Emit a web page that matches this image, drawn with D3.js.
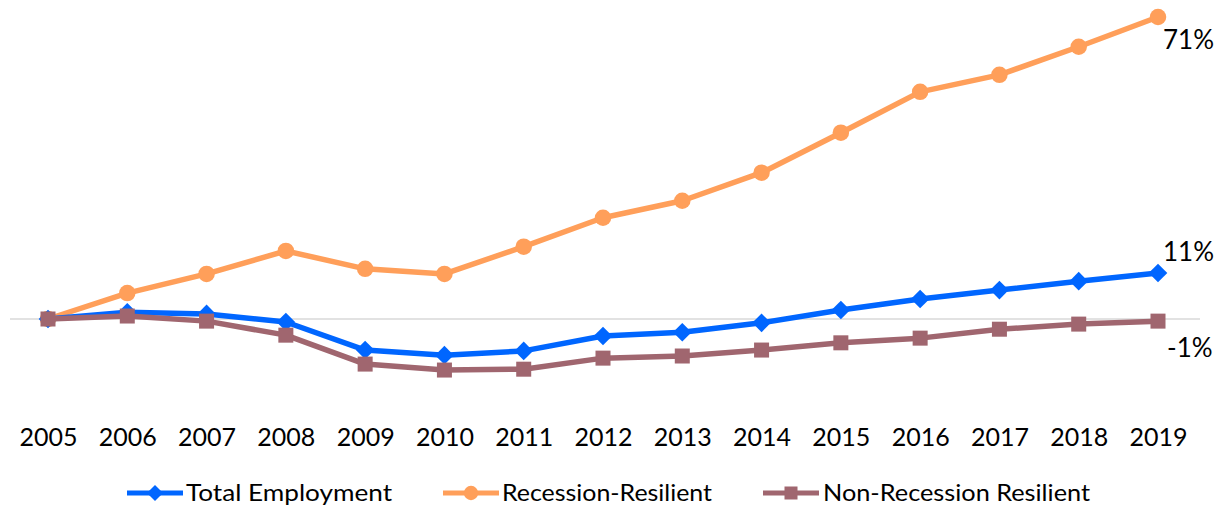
<!DOCTYPE html>
<html>
<head>
<meta charset="utf-8">
<script src="https://cdn.jsdelivr.net/npm/d3@7"></script>
<style>
  body { margin: 0; background: #fff; }
  text { font-family: "Lato", "DejaVu Sans", sans-serif; fill: #000; }
</style>
</head>
<body>
<div id="chart"></div>
<script>
// years along the x axis
const years = ["2005","2006","2007","2008","2009","2010","2011","2012","2013","2014","2015","2016","2017","2018","2019"];

// % change in employment since 2005
const totalEmployment = [0, 1.6, 1.2, -0.7, -7.3, -8.5, -7.5, -4.0, -3.1, -0.9, 2.1, 4.7, 6.8, 8.9, 10.8];
const recessionResilient = [0, 6.1, 10.6, 16.0, 11.8, 10.6, 17.0, 23.8, 27.8, 34.4, 43.8, 53.4, 57.4, 64.0, 71.0];
const nonResilient = [0, 0.7, -0.5, -3.8, -10.6, -12.0, -11.8, -9.2, -8.7, -7.3, -5.6, -4.5, -2.4, -1.2, -0.5];

const endLabels = ["11%", "71%", "-1%"];
const seriesNames = ["Total Employment", "Recession-Resilient", "Non-Recession Resilient"];

const w = 1229, h = 508;
const svg = d3.select("#chart").append("svg").attr("width", w).attr("height", h);

const x = d3.scalePoint().domain(years).range([48, 1158]);
const y = d3.scaleLinear().domain([0, 71]).range([319, 17]);

// zero line
svg.append("line")
    .attr("x1", 10).attr("x2", 1200)
    .attr("y1", y(0)).attr("y2", y(0))
    .attr("stroke", "#d9d9d9").attr("stroke-width", 1.5);

// x tick labels
const xAxis = d3.axisBottom(x).tickSize(0).tickPadding(0);
const gx = svg.append("g").attr("transform", "translate(0,428)").call(xAxis);
gx.select(".domain").remove();
gx.selectAll("text").style("font-size", "25px").attr("dy", "0.71em")
    .style("font-family", "Lato, sans-serif");

const series = [
  { name: seriesNames[0], values: totalEmployment, color: "#0066ff", marker: "diamond", label: endLabels[0] },
  { name: seriesNames[1], values: recessionResilient, color: "#ff9f5a", marker: "circle", label: endLabels[1] },
  { name: seriesNames[2], values: nonResilient, color: "#a0666f", marker: "square", label: endLabels[2] }
];

const line = d3.line().x((d, i) => x(years[i])).y(d => y(d));

function drawMarker(g, type, cx, cy, color, size) {
  if (type === "circle") {
    g.append("circle").attr("cx", cx).attr("cy", cy).attr("r", size * 0.55).attr("fill", color);
  } else if (type === "square") {
    g.append("rect").attr("x", cx - size / 2).attr("y", cy - size / 2)
      .attr("width", size).attr("height", size).attr("fill", color);
  } else {
    const s = size * 0.62;
    g.append("path").attr("d", `M${cx},${cy - s}L${cx + s},${cy}L${cx},${cy + s}L${cx - s},${cy}Z`)
      .attr("fill", color);
  }
}

// draw orange first, then blue, then mauve on top
[series[1], series[0], series[2]].forEach(s => {
  const g = svg.append("g");
  g.append("path").datum(s.values)
    .attr("d", line)
    .attr("fill", "none")
    .attr("stroke", s.color)
    .attr("stroke-width", 5.5)
    .attr("stroke-linejoin", "round");
  s.values.forEach((v, i) => drawMarker(g, s.marker, x(years[i]), y(v), s.color, 15));
});

// end labels
svg.append("text").attr("x", 1163).attr("y", 49).text(endLabels[1]).style("font-size", "26px");
svg.append("text").attr("x", 1163).attr("y", 261).text(endLabels[0]).style("font-size", "26px");
svg.append("text").attr("x", 1167).attr("y", 357).text(endLabels[2]).style("font-size", "26px");

// legend
const legendItems = [
  { s: series[0], x0: 127, tx: 186, tw: 206 },
  { s: series[1], x0: 443, tx: 502, tw: 210 },
  { s: series[2], x0: 763, tx: 823, tw: 267 }
];
const ly = 493;
legendItems.forEach(li => {
  const g = svg.append("g");
  g.append("line").attr("x1", li.x0).attr("x2", li.x0 + 56)
    .attr("y1", ly).attr("y2", ly)
    .attr("stroke", li.s.color).attr("stroke-width", 5);
  drawMarker(g, li.s.marker, li.x0 + 28, ly, li.s.color, 13);
  g.append("text").attr("x", li.tx).attr("y", ly + 8)
    .attr("textLength", li.tw).attr("lengthAdjust", "spacingAndGlyphs")
    .style("font-size", "23px")
    .text(li.s.name);
});
</script>
</body>
</html>
